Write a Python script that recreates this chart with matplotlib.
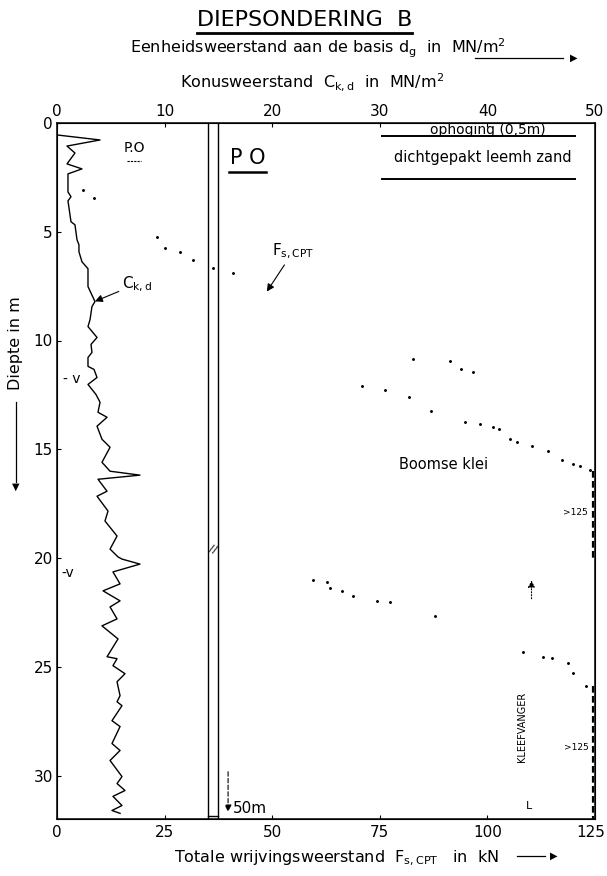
import matplotlib
matplotlib.use("Agg")
import matplotlib.pyplot as plt
from matplotlib.transforms import ScaledTranslation
import numpy as np

# Conusweerstand C_k,d (MN/m2) tegen diepte (m)
ck_depth = [0.55, 0.78, 1.06, 1.38, 1.88, 2.11, 2.34, 3.17, 3.39, 3.58, 4.54, 4.68,
            5.37, 5.60, 5.92, 6.38, 6.70, 7.52, 8.21, 8.44, 9.04, 9.36, 9.86, 10.18,
            10.55, 10.78, 11.19, 11.33, 11.70, 12.02, 12.48, 12.84, 13.30, 13.53,
            13.94, 14.54, 14.91, 15.60, 16.01, 16.19, 16.38, 16.93, 17.16, 17.84,
            18.30, 18.99, 19.59, 19.95, 20.05, 20.28, 20.64, 21.19, 21.51, 21.97,
            22.25, 22.80, 23.12, 23.72, 24.54, 24.63, 24.95, 25.32, 25.69, 26.33,
            26.61, 26.79, 27.48, 27.75, 28.53, 28.85, 29.31, 30.05, 30.37, 30.69,
            30.96, 31.38, 31.61, 31.74]
ck_value = [0.0, 4.0, 0.93, 1.67, 0.93, 2.32, 1.02, 1.02, 1.30, 1.02, 1.30, 1.67,
            1.86, 2.04, 2.04, 2.32, 2.88, 2.88, 3.53, 3.25, 3.07, 2.88, 3.72, 3.16,
            3.25, 2.88, 2.88, 3.44, 3.72, 2.88, 3.62, 4.00, 3.81, 4.65,
            3.72, 4.18, 4.93, 4.18, 4.93, 7.71, 3.81, 4.65, 3.72, 4.74,
            4.46, 5.58, 4.93, 5.67, 6.04, 7.71, 5.20, 5.86, 4.28, 5.86,
            4.93, 5.58, 4.18, 5.67, 4.65, 5.58, 5.20, 6.32, 5.58, 5.86,
            5.58, 6.04, 5.11, 5.86, 5.11, 5.86, 4.93, 6.04, 5.58, 6.32,
            5.20, 6.04, 5.11, 5.86]

# Totale wrijvingsweerstand F_s,CPT (kN), gestippelde takken
fs1_kn = [6.0, 8.6, 23.2, 25.1, 28.6, 31.6, 36.2, 40.9, 82.7, 91.3, 93.9, 96.7]
fs1_depth = [3.07, 3.44, 5.23, 5.73, 5.92, 6.28, 6.65, 6.88, 10.87, 10.96, 11.33, 11.47]
fs2_kn = [70.9, 76.2, 81.8, 86.9, 94.8, 98.3, 101.3, 102.7, 105.3, 106.9, 110.4,
          114.1, 117.3, 119.9, 121.5, 123.8]
fs2_depth = [12.11, 12.29, 12.61, 13.26, 13.76, 13.85, 13.99, 14.08, 14.54, 14.68,
             14.86, 15.09, 15.50, 15.69, 15.78, 15.96]
fs3_kn = [59.5, 62.7, 63.4, 66.2, 68.8, 74.3, 77.4, 87.8]
fs3_depth = [21.0, 21.1, 21.38, 21.51, 21.74, 21.97, 22.02, 22.66]
fs4_kn = [108.3, 112.9, 115.0, 118.7, 119.9, 122.9]
fs4_depth = [24.31, 24.54, 24.59, 24.82, 25.28, 25.87]
# delen waar F_s > 125 kN (langs de rechterrand)
over_depth = [(16.0, 20.0), (25.9, 32.0)]

# eenheidsweerstand d_g strook (MN/m2)
strip_x = [14.0, 15.0]

top_ticks = [0, 10, 20, 30, 40, 50]
bottom_ticks = [0, 25, 50, 75, 100, 125]
depth_ticks = [0, 5, 10, 15, 20, 25, 30]

W, H = 607, 876
plt.rcParams['font.family'] = ['DejaVu Sans']
fig = plt.figure(figsize=(W / 100, H / 100), dpi=100)


def fx(x):
    return x / W


def fy(y):
    return 1 - y / H


ax = fig.add_axes([fx(57), fy(819), fx(595) - fx(57), fy(123) - fy(819)])
axk = ax.twiny()

ax.set_xlim(0, 50)
ax.set_ylim(32, 0)
ax.xaxis.set_ticks_position('top')
ax.xaxis.set_label_position('top')
ax.set_xticks(top_ticks)
ax.set_yticks(depth_ticks)
ax.tick_params(axis='both', labelsize=11, length=3, width=0.8, direction='in', pad=3)
for s in ax.spines.values():
    s.set_linewidth(1.1)

axk.set_xlim(0, 125)
axk.xaxis.set_ticks_position('bottom')
axk.xaxis.set_label_position('bottom')
axk.set_xticks(bottom_ticks)
axk.tick_params(axis='x', labelsize=11, length=3, width=0.8, direction='in', pad=4)
# laatste label iets naar links zodat het binnen de rand blijft
last = axk.get_xticklabels()[-1]
last.set_transform(last.get_transform() + ScaledTranslation(-0.04, 0, fig.dpi_scale_trans))

# C_k,d curve
ax.plot(ck_value, ck_depth, color='k', lw=1.0)

# strip
for xs in strip_x:
    ax.plot([xs, xs], [0, 32], color='k', lw=1.0)
ax.plot(strip_x, [31.85, 31.85], color='k', lw=1.0)
ax.text(np.mean(strip_x), 19.6, '//', ha='center', va='center', fontsize=8, rotation=-20)

# F_s,CPT dotted branches
for xs, ys in [(fs1_kn, fs1_depth), (fs2_kn, fs2_depth), (fs3_kn, fs3_depth), (fs4_kn, fs4_depth)]:
    axk.plot(xs, ys, linestyle='none', marker='.', markersize=2.2, color='k')
for d0, d1 in over_depth:
    axk.plot([124.6, 124.6], [d0, d1], color='k', lw=1.6, linestyle=(0, (3, 1.5)))

# annotations
ax.text(7.16, 1.15, 'P.O', ha='center', va='center', fontsize=10)
ax.plot([6.5, 7.8], [1.75, 1.75], color='k', lw=0.8, linestyle=(0, (2, 1)))
ax.text(17.75, 1.6, 'P O', ha='center', va='center', fontsize=15)
ax.plot([16.0, 19.4], [2.25, 2.25], color='k', lw=1.8)

ax.text(40.0, 0.33, 'ophoging (0,5m)', ha='center', va='center', fontsize=10)
ax.plot([30.2, 48.1], [0.6, 0.6], color='k', lw=1.4)
ax.text(39.6, 1.6, 'dichtgepakt leemh zand', ha='center', va='center', fontsize=10.5)
ax.plot([30.2, 48.1], [2.57, 2.57], color='k', lw=1.4)
ax.text(35.9, 15.7, 'Boomse klei', ha='center', va='center', fontsize=10.5)
ax.text(49.3, 17.9, '>125', ha='right', va='center', fontsize=6.5)
ax.text(49.4, 28.7, '>125', ha='right', va='center', fontsize=6.5)

ax.annotate(r'C$_{\rm k,d}$', xy=(3.53, 8.2), xytext=(6.0, 7.4), fontsize=11,
            va='center', arrowprops=dict(arrowstyle='-|>', color='k', lw=0.8, shrinkA=0, shrinkB=0))
ax.annotate(r'F$_{\rm s,CPT}$', xy=(19.5, 7.75), xytext=(20.0, 5.9), fontsize=11,
            va='center', arrowprops=dict(arrowstyle='-|>', color='k', lw=0.8, shrinkA=1, shrinkB=0))
ax.text(0.6, 11.75, '- v', ha='left', va='center', fontsize=10)
ax.text(0.4, 20.7, '-v', ha='left', va='center', fontsize=10)

ax.annotate('', xy=(15.9, 31.8), xytext=(15.9, 29.7),
            arrowprops=dict(arrowstyle='-|>', color='k', lw=0.8, linestyle=(0, (4, 2))))
ax.text(16.3, 31.5, '50m', ha='left', va='center', fontsize=11)

ax.text(43.2, 27.75, 'KLEEFVANGER', rotation=90, ha='center', va='center', fontsize=7)
ax.text(43.9, 31.4, 'L', ha='center', va='center', fontsize=8)
ax.annotate('', xy=(44.1, 20.9), xytext=(44.1, 22.0),
            arrowprops=dict(arrowstyle='-|>', color='k', lw=0.8, linestyle=':'))

# figure texts
fig.text(fx(305), fy(20), 'DIEPSONDERING  B', ha='center', va='center', fontsize=16)
fig.add_artist(plt.Line2D([fx(197), fx(412)], [fy(33), fy(33)], color='k', lw=2))
fig.text(fx(318), fy(48), r'Eenheidsweerstand aan de basis d$_{\rm g}$  in  MN/m$^2$',
         ha='center', va='center', fontsize=11.5)
fig.add_artist(plt.Line2D([fx(475), fx(563)], [fy(58), fy(58)], color='k', lw=0.9))
fig.text(fx(577), fy(58), '\u25b6', ha='right', va='center', fontsize=7)
fig.text(fx(312), fy(82), r'Konusweerstand  C$_{\rm k,d}$  in  MN/m$^2$',
         ha='center', va='center', fontsize=11.5)
fig.text(fx(336), fy(858), r'Totale wrijvingsweerstand  F$_{\rm s,CPT}$   in  kN',
         ha='center', va='center', fontsize=11.5)
fig.add_artist(plt.Line2D([fx(517), fx(545)], [fy(856), fy(856)], color='k', lw=0.9))
fig.text(fx(557), fy(856), '\u25b6', ha='right', va='center', fontsize=7)

fig.text(fx(16), fy(343), 'Diepte in m', rotation=90, ha='center', va='center', fontsize=11.5)
fig.add_artist(plt.Line2D([fx(16), fx(16)], [fy(402), fy(482)], color='k', lw=0.9))
fig.text(fx(16), fy(487), '\u25bc', ha='center', va='center', fontsize=7)

fig.savefig('out.png', dpi=100)
